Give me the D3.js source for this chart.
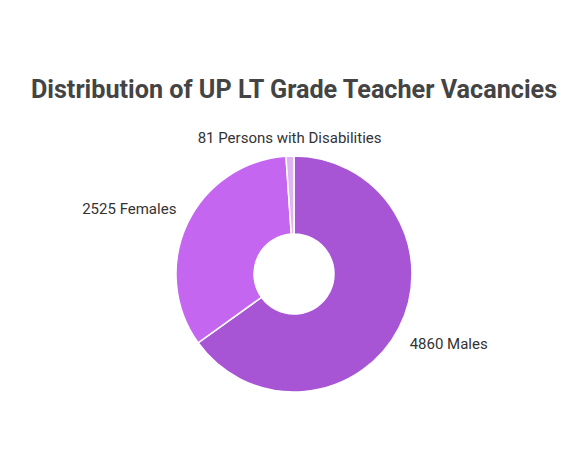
<!DOCTYPE html>
<html>
<head>
<meta charset="utf-8">
<script src="https://cdn.jsdelivr.net/npm/d3@7"></script>
<style>
  body { margin: 0; background: #fff; }
  text { font-family: Roboto, "Noto Sans", sans-serif; }
</style>
</head>
<body>
<div id="chart"></div>
<script>
// chart data
const categories = ["Males", "Females", "Persons with Disabilities"];
const values = [4860, 2525, 81];
const colors = ["#a755d5", "#c566f1", "#dfb4f3"];

const width = 588, height = 457;
const cx = 294, cy = 274;
const outerR = 118, innerR = 40;

let svg = d3.select("#chart")
    .append("svg")
    .attr("width", width)
    .attr("height", height);

// title
svg.append("text")
    .attr("x", 294)
    .attr("y", 98)
    .style("text-anchor", "middle")
    .style("font-size", "25.2px")
    .style("font-weight", "bold")
    .style("fill", "#444")
    .text("Distribution of UP LT Grade Teacher Vacancies");

let data = categories.map((c, i) => ({ name: c, value: values[i], color: colors[i] }));

let pie = d3.pie().sort(null).value(d => d.value);
let arc = d3.arc().innerRadius(innerR).outerRadius(outerR);
let arcs = pie(data);

let g = svg.append("g")
    .attr("transform", `translate(${cx},${cy})`);

g.selectAll("path")
    .data(arcs)
    .enter()
    .append("path")
    .attr("d", arc)
    .attr("fill", d => d.data.color)
    .attr("stroke", "#fff")
    .attr("stroke-width", 1.5);

// labels outside the ring: a bit further out vertically than horizontally
function midAngle(d) { return (d.startAngle + d.endAngle) / 2; }
function isSide(d) { return Math.abs(Math.sin(midAngle(d))) >= 0.2; }
g.selectAll("text.lbl")
    .data(arcs)
    .enter()
    .append("text")
    .attr("class", "lbl")
    .attr("transform", d => {
        let a = midAngle(d);
        let rx = outerR + 12;
        let ry = isSide(d) ? outerR + 34 : outerR + 18;
        return `translate(${Math.sin(a) * rx},${-Math.cos(a) * ry})`;
    })
    .attr("dy", "0.35em")
    .style("text-anchor", d => {
        if (!isSide(d)) return "middle";
        return Math.sin(midAngle(d)) > 0 ? "start" : "end";
    })
    .style("font-size", "15px")
    .style("fill", "#333")
    .text(d => d.data.value + " " + d.data.name);
</script>
</body>
</html>
